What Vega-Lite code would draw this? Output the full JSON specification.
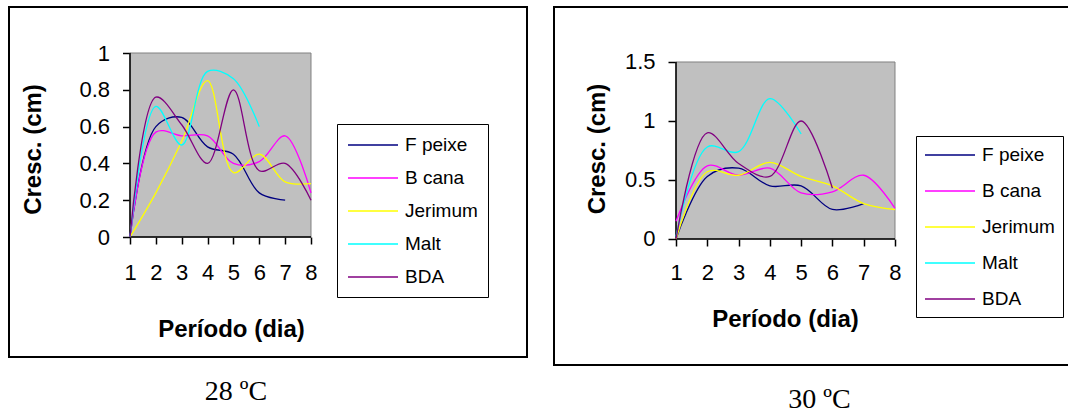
{
  "$schema": "https://vega.github.io/schema/vega-lite/v6.json",
  "background": "white",
  "padding": {"left": 8, "top": 6, "right": 0, "bottom": 0},
  "datasets": {
    "t28": [
      {"dia": 1, "serie": "F peixe", "cresc": 0},
      {"dia": 2, "serie": "F peixe", "cresc": 0.6},
      {"dia": 3, "serie": "F peixe", "cresc": 0.65},
      {"dia": 4, "serie": "F peixe", "cresc": 0.49},
      {"dia": 5, "serie": "F peixe", "cresc": 0.45},
      {"dia": 6, "serie": "F peixe", "cresc": 0.24},
      {"dia": 7, "serie": "F peixe", "cresc": 0.2},
      {"dia": 1, "serie": "B cana", "cresc": 0},
      {"dia": 2, "serie": "B cana", "cresc": 0.57},
      {"dia": 3, "serie": "B cana", "cresc": 0.55},
      {"dia": 4, "serie": "B cana", "cresc": 0.55},
      {"dia": 5, "serie": "B cana", "cresc": 0.4},
      {"dia": 6, "serie": "B cana", "cresc": 0.41},
      {"dia": 7, "serie": "B cana", "cresc": 0.55},
      {"dia": 8, "serie": "B cana", "cresc": 0.24},
      {"dia": 1, "serie": "Jerimum", "cresc": 0},
      {"dia": 2, "serie": "Jerimum", "cresc": 0.24},
      {"dia": 3, "serie": "Jerimum", "cresc": 0.52},
      {"dia": 4, "serie": "Jerimum", "cresc": 0.85},
      {"dia": 5, "serie": "Jerimum", "cresc": 0.35},
      {"dia": 6, "serie": "Jerimum", "cresc": 0.45},
      {"dia": 7, "serie": "Jerimum", "cresc": 0.3},
      {"dia": 8, "serie": "Jerimum", "cresc": 0.29},
      {"dia": 1, "serie": "Malt", "cresc": 0},
      {"dia": 2, "serie": "Malt", "cresc": 0.71},
      {"dia": 3, "serie": "Malt", "cresc": 0.5},
      {"dia": 4, "serie": "Malt", "cresc": 0.9},
      {"dia": 5, "serie": "Malt", "cresc": 0.86},
      {"dia": 6, "serie": "Malt", "cresc": 0.6},
      {"dia": 1, "serie": "BDA", "cresc": 0},
      {"dia": 2, "serie": "BDA", "cresc": 0.76},
      {"dia": 3, "serie": "BDA", "cresc": 0.61},
      {"dia": 4, "serie": "BDA", "cresc": 0.4},
      {"dia": 5, "serie": "BDA", "cresc": 0.8},
      {"dia": 6, "serie": "BDA", "cresc": 0.36},
      {"dia": 7, "serie": "BDA", "cresc": 0.4},
      {"dia": 8, "serie": "BDA", "cresc": 0.2}
    ],
    "t30": [
      {"dia": 1, "serie": "F peixe", "cresc": 0},
      {"dia": 2, "serie": "F peixe", "cresc": 0.53},
      {"dia": 3, "serie": "F peixe", "cresc": 0.6},
      {"dia": 4, "serie": "F peixe", "cresc": 0.45},
      {"dia": 5, "serie": "F peixe", "cresc": 0.45},
      {"dia": 6, "serie": "F peixe", "cresc": 0.25},
      {"dia": 7, "serie": "F peixe", "cresc": 0.3},
      {"dia": 1, "serie": "B cana", "cresc": 0.15},
      {"dia": 2, "serie": "B cana", "cresc": 0.62},
      {"dia": 3, "serie": "B cana", "cresc": 0.54},
      {"dia": 4, "serie": "B cana", "cresc": 0.6},
      {"dia": 5, "serie": "B cana", "cresc": 0.39},
      {"dia": 6, "serie": "B cana", "cresc": 0.4},
      {"dia": 7, "serie": "B cana", "cresc": 0.54},
      {"dia": 8, "serie": "B cana", "cresc": 0.26},
      {"dia": 1, "serie": "Jerimum", "cresc": 0},
      {"dia": 2, "serie": "Jerimum", "cresc": 0.57},
      {"dia": 3, "serie": "Jerimum", "cresc": 0.54},
      {"dia": 4, "serie": "Jerimum", "cresc": 0.65},
      {"dia": 5, "serie": "Jerimum", "cresc": 0.53},
      {"dia": 6, "serie": "Jerimum", "cresc": 0.45},
      {"dia": 7, "serie": "Jerimum", "cresc": 0.3},
      {"dia": 8, "serie": "Jerimum", "cresc": 0.25},
      {"dia": 1, "serie": "Malt", "cresc": 0.02},
      {"dia": 2, "serie": "Malt", "cresc": 0.78},
      {"dia": 3, "serie": "Malt", "cresc": 0.74},
      {"dia": 4, "serie": "Malt", "cresc": 1.19},
      {"dia": 5, "serie": "Malt", "cresc": 0.89},
      {"dia": 1, "serie": "BDA", "cresc": 0},
      {"dia": 2, "serie": "BDA", "cresc": 0.9},
      {"dia": 3, "serie": "BDA", "cresc": 0.64},
      {"dia": 4, "serie": "BDA", "cresc": 0.53},
      {"dia": 5, "serie": "BDA", "cresc": 1.0},
      {"dia": 6, "serie": "BDA", "cresc": 0.43}
    ]
  },
  "spacing": 25,
  "hconcat": [
    {
      "width": 518,
      "height": 350,
      "title": {"text": "28 ºC", "orient": "bottom", "anchor": "middle", "font": "Liberation Serif", "fontSize": 28, "fontWeight": "normal", "color": "black", "offset": 21, "dx": -32},
      "layer": [
        {
          "data": {"values": [{}]},
          "mark": {"type": "rect", "fill": "#C0C0C0", "stroke": "#808080", "strokeWidth": 1},
          "encoding": {
            "x": {
              "datum": 1, "type": "quantitative",
              "scale": {"domain": [-3.68, 16.354], "nice": false, "zero": false},
              "axis": {
                "values": [1, 2, 3, 4, 5, 6, 7, 8], "offset": -120, "domain": false, "grid": false,
                "tickSize": 7, "labelPadding": 18,
                "title": "Período (dia)", "titleX": 222, "titleY": 92, "titleBaseline": "middle", "titleAlign": "center",
                "encode": {"ticks": {"update": {"y": {"value": -8}, "y2": {"value": 7}}}}
              }
            },
            "x2": {"datum": 8},
            "y": {
              "datum": 0, "type": "quantitative",
              "scale": {"domain": [-0.652, 1.25], "nice": false, "zero": false},
              "axis": {
                "values": [0, 0.2, 0.4, 0.6, 0.8, 1], "format": "~g", "offset": -121, "domain": false, "grid": false,
                "tickSize": 7.5, "labelPadding": 13,
                "title": "Cresc. (cm)", "titleX": -97, "titleY": 142, "titleAngle": -90, "titleBaseline": "middle", "titleAlign": "center"
              }
            },
            "y2": {"datum": 1}
          }
        },
        {
          "data": {"values": [{}]},
          "mark": {"type": "rule", "color": "black", "strokeWidth": 1.5},
          "encoding": {"x": {"datum": 1, "type": "quantitative"}, "y": {"datum": 0, "type": "quantitative"}, "y2": {"datum": 1}}
        },
        {
          "data": {"values": [{}]},
          "mark": {"type": "rule", "color": "black", "strokeWidth": 1.5},
          "encoding": {"y": {"datum": 0, "type": "quantitative"}, "x": {"datum": 1, "type": "quantitative"}, "x2": {"datum": 8}}
        },
        {
          "data": {"name": "t28"},
          "mark": {"type": "line", "interpolate": "catmull-rom", "strokeWidth": 1.3},
          "encoding": {
            "x": {"field": "dia", "type": "quantitative"},
            "y": {"field": "cresc", "type": "quantitative"},
            "color": {
              "field": "serie", "type": "nominal",
              "scale": {"domain": ["F peixe", "B cana", "Jerimum", "Malt", "BDA"], "range": ["#000080", "#FF00FF", "#FFFF00", "#00FFFF", "#800080"]},
              "legend": {"orient": "none", "legendX": 328, "legendY": 117, "rowPadding": 12, "padding": 10}
            }
          }
        }
      ]
    },
    {
      "width": 515,
      "height": 358,
      "title": {"text": "30 ºC", "orient": "bottom", "anchor": "middle", "font": "Liberation Serif", "fontSize": 28, "fontWeight": "normal", "color": "black", "offset": 21, "dx": 8},
      "layer": [
        {
          "data": {"values": [{}]},
          "mark": {"type": "rect", "fill": "#C0C0C0", "stroke": "#808080", "strokeWidth": 1},
          "encoding": {
            "x": {
              "datum": 1, "type": "quantitative",
              "scale": {"domain": [-2.9, 13.562], "nice": false, "zero": false},
              "axis": {
                "values": [1, 2, 3, 4, 5, 6, 7, 8], "offset": -126, "domain": false, "grid": false,
                "tickSize": 7, "labelPadding": 16,
                "title": "Período (dia)", "titleX": 231, "titleY": 80, "titleBaseline": "middle", "titleAlign": "center",
                "encode": {"ticks": {"update": {"y": {"value": -8}, "y2": {"value": 7}}}}
              }
            },
            "x2": {"datum": 8},
            "y": {
              "datum": 0, "type": "quantitative",
              "scale": {"domain": [-1.068, 1.966], "nice": false, "zero": false},
              "axis": {
                "values": [0, 0.5, 1, 1.5], "format": "~g", "offset": -122, "domain": false, "grid": false,
                "tickSize": 8, "labelPadding": 13,
                "title": "Cresc. (cm)", "titleX": -79, "titleY": 141.5, "titleAngle": -90, "titleBaseline": "middle", "titleAlign": "center"
              }
            },
            "y2": {"datum": 1.5}
          }
        },
        {
          "data": {"values": [{}]},
          "mark": {"type": "rule", "color": "black", "strokeWidth": 1.5},
          "encoding": {"x": {"datum": 1, "type": "quantitative"}, "y": {"datum": 0, "type": "quantitative"}, "y2": {"datum": 1.5}}
        },
        {
          "data": {"values": [{}]},
          "mark": {"type": "rule", "color": "black", "strokeWidth": 1.5},
          "encoding": {"y": {"datum": 0, "type": "quantitative"}, "x": {"datum": 1, "type": "quantitative"}, "x2": {"datum": 8}}
        },
        {
          "data": {"name": "t30"},
          "mark": {"type": "line", "interpolate": "catmull-rom", "strokeWidth": 1.3},
          "encoding": {
            "x": {"field": "dia", "type": "quantitative"},
            "y": {"field": "cresc", "type": "quantitative"},
            "color": {
              "field": "serie", "type": "nominal",
              "scale": {"domain": ["F peixe", "B cana", "Jerimum", "Malt", "BDA"], "range": ["#000080", "#FF00FF", "#FFFF00", "#00FFFF", "#800080"]},
              "legend": {"orient": "none", "legendX": 362, "legendY": 129, "rowPadding": 15, "padding": 8}
            }
          }
        }
      ]
    }
  ],
  "resolve": {
    "scale": {"x": "independent", "y": "independent", "color": "independent"},
    "legend": {"color": "independent"}
  },
  "config": {
    "view": {"stroke": "black", "strokeWidth": 2, "fill": "white"},
    "axis": {
      "labelFont": "Liberation Sans", "labelFontSize": 22, "labelColor": "black",
      "labelOverlap": false, "labelFlush": false, "labelBound": false,
      "tickColor": "black", "tickWidth": 1.5,
      "titleFont": "Liberation Sans", "titleFontSize": 24, "titleFontWeight": "bold", "titleColor": "black"
    },
    "legend": {
      "title": null,
      "symbolType": "M-1,0H4", "symbolSize": 400, "symbolStrokeWidth": 1.5,
      "labelOffset": 36, "labelFont": "Liberation Sans", "labelFontSize": 19, "labelColor": "black",
      "strokeColor": "black", "fillColor": "white"
    }
  }
}
